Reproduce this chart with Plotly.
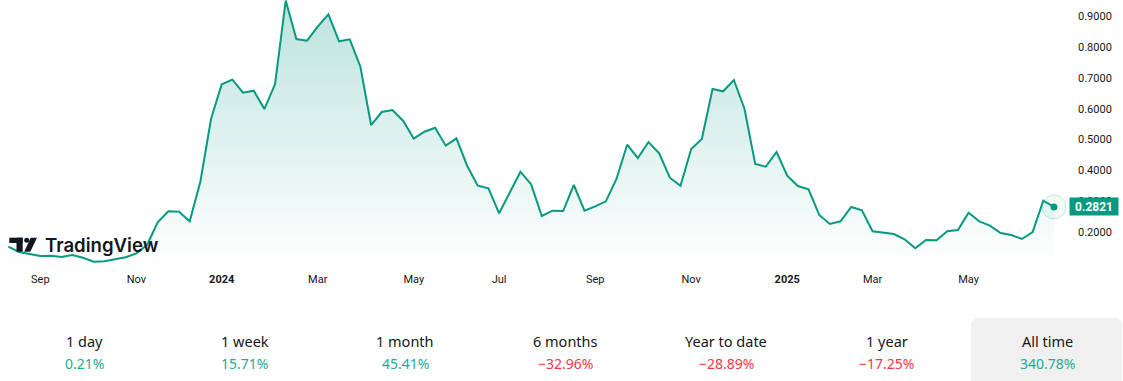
import datetime as dt
import plotly.graph_objects as go

# ---------------- data ----------------
start_date = dt.datetime(2023, 8, 14)
prices = [
    0.1534, 0.1362, 0.1298, 0.1233, 0.1243, 0.1201, 0.1265, 0.1178, 0.1049, 0.1061,
    0.1126, 0.1191, 0.1320, 0.1589, 0.2324, 0.2680, 0.2667, 0.2356, 0.3638, 0.5667,
    0.6790, 0.6939, 0.6518, 0.6583, 0.5990, 0.6799, 0.9500, 0.8256, 0.8201, 0.8654,
    0.9055, 0.8181, 0.8246, 0.7359, 0.5472, 0.5893, 0.5958, 0.5612, 0.5029, 0.5256,
    0.5385, 0.4803, 0.5042, 0.4155, 0.3508, 0.3424, 0.2615, 0.3282, 0.3961, 0.3553,
    0.2528, 0.2699, 0.2689, 0.3531, 0.2699, 0.2841, 0.3003, 0.3725, 0.4835, 0.4405,
    0.4922, 0.4557, 0.3767, 0.3508, 0.4696, 0.5019, 0.6638, 0.6563, 0.6929, 0.5990,
    0.4210, 0.4123, 0.4599, 0.3832, 0.3498, 0.3392, 0.2560, 0.2269, 0.2356, 0.2819,
    0.2712, 0.2032, 0.1987, 0.1945, 0.1773, 0.1482, 0.1751, 0.1741, 0.2032, 0.2074,
    0.2634, 0.2356, 0.2214, 0.1977, 0.1913, 0.1783, 0.2010, 0.3023, 0.2821,
]
dates = [start_date + dt.timedelta(weeks=i) for i in range(len(prices))]

tick_months = [(2023, 9), (2023, 11), (2024, 1), (2024, 3), (2024, 5), (2024, 7),
               (2024, 9), (2024, 11), (2025, 1), (2025, 3), (2025, 5)]
tick_labels = ["Sep", "Nov", "<b>2024</b>", "Mar", "May", "Jul",
               "Sep", "Nov", "<b>2025</b>", "Mar", "May"]
y_ticks = [0.2, 0.3, 0.4, 0.5, 0.6, 0.7, 0.8, 0.9]

periods = ["1 day", "1 week", "1 month", "6 months", "Year to date", "1 year", "All time"]
changes = [0.21, 15.71, 45.41, -32.96, -28.89, -17.25, 340.78]

# ---------------- style / layout constants ----------------
W, H = 1123, 381
PL, PR, PT, PB = 0, 1065, 0, 265          # plot area in pixels
GREEN = "#089981"
TEXT = "#131722"
POS = "#22ab94"
NEG = "#f23645"

# first weekly bar inside each labelled month
tick_vals = []
for (yy, mm) in tick_months:
    tick_vals.append(next(d for d in dates if d.year == yy and d.month == mm))

day_px = 10.67 / 7.0
x_range = [start_date - dt.timedelta(days=8.3 / day_px),
           start_date + dt.timedelta(days=(PR - 8.3) / day_px)]
y_range = [0.0942, 0.9518]


def px(x):
    return (x - PL) / (PR - PL)


def py(y):
    return (PB - y) / (PB - PT)


fig = go.Figure()

fig.add_trace(go.Scatter(
    x=dates, y=prices, mode="lines",
    line=dict(color=GREEN, width=2),
    fill="tozeroy",
    fillgradient=dict(type="vertical",
                      colorscale=[[0, "rgba(8,153,129,0.0)"], [1, "rgba(8,153,129,0.27)"]],
                      start=y_range[0], stop=0.95),
    hoverinfo="skip", showlegend=False,
))
# last point ring + dot
fig.add_trace(go.Scatter(
    x=[dates[-1]], y=[prices[-1]], mode="markers",
    marker=dict(size=24, color="rgba(8,153,129,0.05)",
                line=dict(color="rgba(8,153,129,0.22)", width=1)),
    hoverinfo="skip", showlegend=False, cliponaxis=False,
))
fig.add_trace(go.Scatter(
    x=[dates[-1]], y=[prices[-1]], mode="markers",
    marker=dict(size=7, color=GREEN),
    hoverinfo="skip", showlegend=False, cliponaxis=False,
))

annotations = []
shapes = []

# price label
annotations.append(dict(
    xref="paper", yref="y", x=1, y=prices[-1], xanchor="left", yanchor="middle",
    xshift=4, text=f"<b>{prices[-1]:.4f}</b>", showarrow=False,
    font=dict(family="Roboto", size=12, color="white"),
    bgcolor=GREEN, width=46, height=15, borderpad=1,
))

# TradingView logo
shapes.append(dict(type="rect", xref="paper", yref="paper", layer="above",
                   x0=px(9.3), x1=px(22.7), y0=py(243), y1=py(237.7),
                   fillcolor=TEXT, line=dict(width=0)))
shapes.append(dict(type="rect", xref="paper", yref="paper", layer="above",
                   x0=px(16.5), x1=px(22.7), y0=py(251.7), y1=py(237.7),
                   fillcolor=TEXT, line=dict(width=0)))
shapes.append(dict(type="circle", xref="paper", yref="paper", layer="above",
                   x0=px(24.2), x1=px(29.2), y0=py(242.7), y1=py(237.7),
                   fillcolor=TEXT, line=dict(width=0)))
shapes.append(dict(type="path", xref="paper", yref="paper", layer="above",
                   path=f"M {px(30.7)},{py(237.7)} L {px(37)},{py(237.7)} "
                        f"L {px(30.3)},{py(251.7)} L {px(24.2)},{py(251.7)} Z",
                   fillcolor=TEXT, line=dict(width=0)))
annotations.append(dict(
    xref="paper", yref="paper", x=px(43), y=py(245), xanchor="left", yanchor="middle",
    text="TradingView", showarrow=False,
    font=dict(family="Inter", size=18.6, color=TEXT, weight=600),
))

# performance row
col0, colstep = 84, 160.5
r = 8
bx0, bx1, by0, by1 = 971, 1122, 318, 395
shapes.append(dict(
    type="path", xref="paper", yref="paper", layer="below",
    path=(f"M {px(bx0 + r)},{py(by0)} L {px(bx1 - r)},{py(by0)} "
          f"Q {px(bx1)},{py(by0)} {px(bx1)},{py(by0 + r)} "
          f"L {px(bx1)},{py(by1)} L {px(bx0)},{py(by1)} "
          f"L {px(bx0)},{py(by0 + r)} Q {px(bx0)},{py(by0)} {px(bx0 + r)},{py(by0)} Z"),
    fillcolor="#f0f0f0", line=dict(width=0)))

for k, (p, c) in enumerate(zip(periods, changes)):
    cx = col0 + colstep * k
    annotations.append(dict(
        xref="paper", yref="paper", x=px(cx), y=py(341), xanchor="center", yanchor="middle",
        text=p, showarrow=False, font=dict(family="Noto Sans", size=14.5, color=TEXT)))
    val = f"{c:.2f}%" if c >= 0 else f"\u2212{abs(c):.2f}%"
    annotations.append(dict(
        xref="paper", yref="paper", x=px(cx), y=py(363), xanchor="center", yanchor="middle",
        text=val, showarrow=False,
        font=dict(family="Noto Sans", size=14, color=POS if c >= 0 else NEG)))

fig.update_layout(
    width=W, height=H,
    margin=dict(l=PL, r=W - PR, t=PT, b=H - PB, pad=0),
    paper_bgcolor="white", plot_bgcolor="white",
    showlegend=False,
    xaxis=dict(range=x_range, type="date", showgrid=False, zeroline=False,
               showline=False, ticks="", tickvals=tick_vals, ticktext=tick_labels,
               tickfont=dict(family="Roboto", size=11, color=TEXT),
               ticklabelstandoff=6, fixedrange=True),
    yaxis=dict(range=y_range, side="right", showgrid=False, zeroline=False,
               showline=False, ticks="", tickvals=y_ticks,
               ticktext=[f"{v:.4f}" for v in y_ticks],
               tickfont=dict(family="Roboto", size=11, color=TEXT),
               ticklabelstandoff=12, fixedrange=True),
    annotations=annotations, shapes=shapes,
)

fig.write_html("out.html",
               config={"displayModeBar": False, "staticPlot": True},
               post_script="document.body.style.margin='0';document.body.style.overflow='hidden';")
